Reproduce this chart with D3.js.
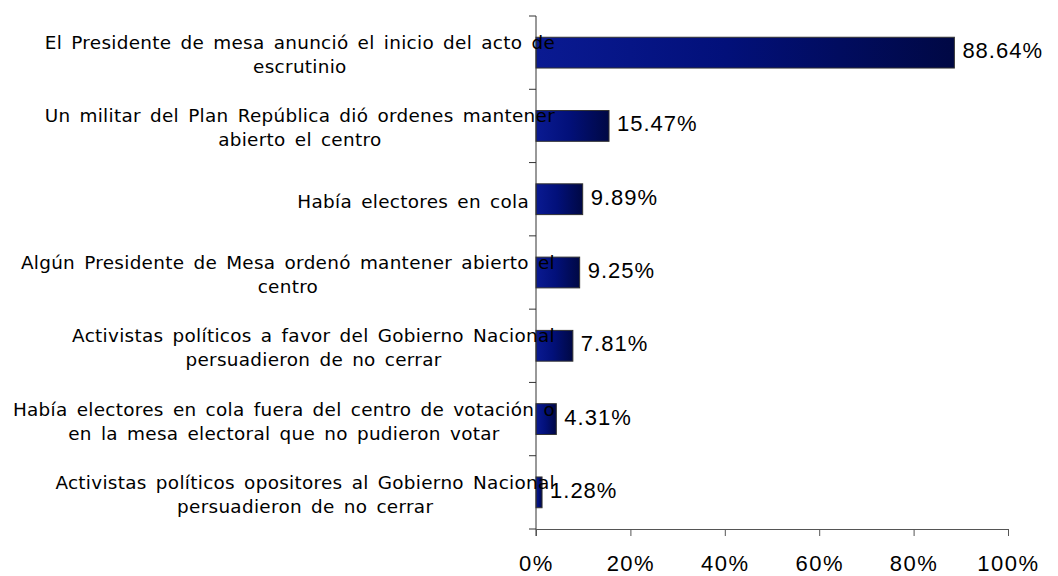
<!DOCTYPE html>
<html>
<head>
<meta charset="utf-8">
<script src="https://cdn.jsdelivr.net/npm/d3@7"></script>
<style>
  body { margin: 0; background: #fff; }
  svg { display: block; }
</style>
</head>
<body>
<svg width="1058" height="576"></svg>
<script>
// Categories (already wrapped as in the original), and their shares
var categories = [
    ["El Presidente de mesa anunció el inicio del acto de", "escrutinio"],
    ["Un militar del Plan República dió ordenes mantener", "abierto el centro"],
    ["Había electores en cola"],
    ["Algún Presidente de Mesa ordenó mantener abierto el", "centro"],
    ["Activistas políticos a favor del Gobierno Nacional", "persuadieron de no cerrar"],
    ["Había electores en cola fuera del centro de votación o", "en la mesa electoral que no pudieron votar"],
    ["Activistas políticos opositores al Gobierno Nacional", "persuadieron de no cerrar"]
];
var values = [0.8864, 0.1547, 0.0989, 0.0925, 0.0781, 0.0431, 0.0128];
var xTicks = [0, 0.2, 0.4, 0.6, 0.8, 1];

var svg = d3.select("svg");

var x = d3.scaleLinear().domain([0, 1]).range([536, 1008]);
var y = d3.scaleBand()
    .domain(d3.range(categories.length))
    .range([16, 529])
    .paddingInner(0.58)
    .paddingOuter(0.29);

// gradient for the bars
var grad = svg.append("defs").append("linearGradient")
    .attr("id", "barGrad")
    .attr("x1", "0%").attr("x2", "100%")
    .attr("y1", "0%").attr("y2", "0%");
grad.append("stop").attr("offset", "0%").attr("stop-color", "#0a1a92");
grad.append("stop").attr("offset", "45%").attr("stop-color", "#02107a");
grad.append("stop").attr("offset", "100%").attr("stop-color", "#000844");

// bars
svg.append("g")
    .selectAll("rect")
    .data(values)
    .enter()
    .append("rect")
    .attr("x", x(0))
    .attr("y", function (d, i) { return y(i); })
    .attr("width", function (d) { return x(d) - x(0); })
    .attr("height", y.bandwidth())
    .attr("fill", "url(#barGrad)")
    .attr("stroke", "#333")
    .attr("stroke-width", 1);

// y axis: line plus ticks at band boundaries
var yAxis = svg.append("g");
yAxis.append("line")
    .attr("x1", x(0)).attr("x2", x(0))
    .attr("y1", y.range()[0]).attr("y2", y.range()[1] + 7)
    .attr("stroke", "#333");
yAxis.selectAll("line.tick")
    .data(d3.range(categories.length + 1))
    .enter()
    .append("line")
    .attr("class", "tick")
    .attr("x1", x(0) - 7).attr("x2", x(0))
    .attr("y1", function (i) { return y.range()[0] + i * y.step(); })
    .attr("y2", function (i) { return y.range()[0] + i * y.step(); })
    .attr("stroke", "#333");

// category labels (drawn over the bars, as in the original)
var labelFont = "'DejaVu Sans', Verdana, sans-serif";
var labels = svg.append("g").attr("class", "cat-labels");
categories.forEach(function (lines, i) {
    var cy = y(i) + y.bandwidth() / 2 + 2;
    var g = labels.append("g");
    var texts = g.selectAll("text")
        .data(lines)
        .enter()
        .append("text")
        .attr("text-anchor", "middle")
        .attr("dominant-baseline", "central")
        .attr("y", function (d, j) {
            return cy + (j - (lines.length - 1) / 2) * 24;
        })
        .style("font-family", labelFont)
        .style("font-size", "18.4px")
        .style("letter-spacing", "0.3px")
        .style("word-spacing", "3px")
        .style("fill", "#000")
        .text(function (d) { return d; });
    var maxW = d3.max(texts.nodes(), function (n) { return n.getComputedTextLength(); });
    var right = lines.length > 1 ? 555 : 529;
    texts.attr("x", right - maxW / 2);
});

// value labels
svg.append("g")
    .selectAll("text")
    .data(values)
    .enter()
    .append("text")
    .attr("x", function (d) { return x(d) + 8; })
    .attr("y", function (d, i) { return y(i) + y.bandwidth() / 2 - 2; })
    .attr("dominant-baseline", "central")
    .style("font-family", "'Liberation Sans', Arial, sans-serif")
    .style("font-size", "22px")
    .style("letter-spacing", "1px")
    .style("fill", "#000")
    .text(function (d) { return d3.format(".2%")(d); });

// x axis
var xAxis = svg.append("g")
    .attr("transform", "translate(0,529)")
    .call(d3.axisBottom(x)
        .tickValues(xTicks)
        .tickFormat(d3.format(".0%"))
        .tickSize(7)
        .tickSizeOuter(0)
        .tickPadding(19));
xAxis.select(".domain").attr("stroke", "#555");
xAxis.selectAll(".tick line").attr("stroke", "#555");
xAxis.selectAll(".tick text")
    .style("font-family", "'Liberation Sans', Arial, sans-serif")
    .style("font-size", "22px")
    .style("letter-spacing", "1.5px")
    .attr("fill", "#000");
</script>
</body>
</html>
